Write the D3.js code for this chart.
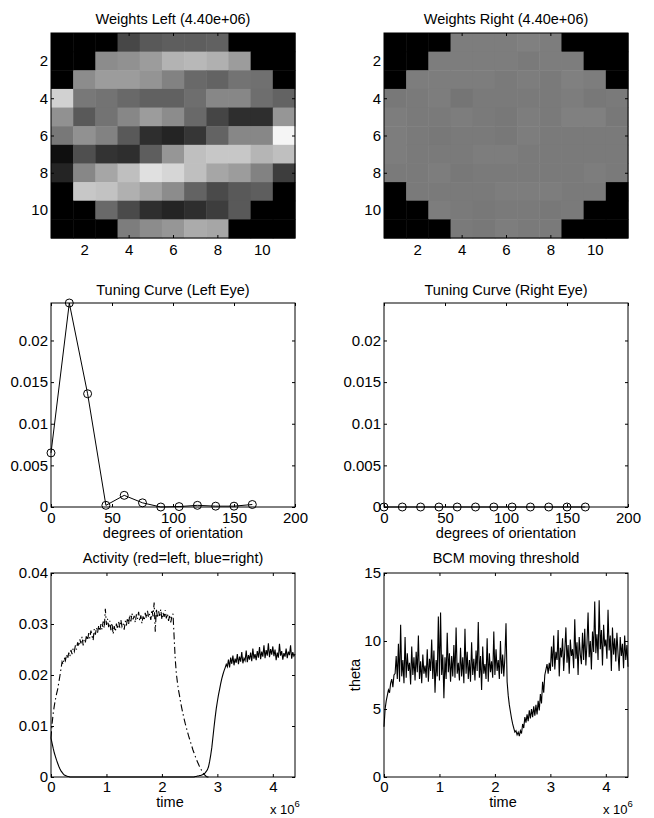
<!DOCTYPE html>
<html>
<head>
<meta charset="utf-8">
<script src="https://cdn.jsdelivr.net/npm/d3@7"></script>
<style>
  body { margin: 0; background: #fff; }
  svg text { font-family: "Liberation Sans", Arial, Helvetica, sans-serif; fill: #000; }
</style>
</head>
<body>
<svg id="fig" width="654" height="818"></svg>
<script>
// ── Data ──────────────────────────────────────────────
// receptive field weights, 11x11, shown as gray level (0 = black, 1 = white)
const weightsLeft = [
  [0,0,0,.28,.35,.37,.37,.38,0,0,0],
  [0,0,.55,.57,.61,.70,.72,.69,.61,0,0],
  [0,.55,.61,.61,.58,.51,.41,.39,.45,.44,0],
  [.82,.47,.45,.41,.38,.38,.43,.53,.53,.43,.39],
  [.57,.35,.45,.53,.61,.55,.41,.27,.18,.18,.59],
  [.47,.57,.51,.35,.18,.14,.21,.39,.53,.53,.96],
  [.06,.31,.20,.18,.37,.59,.75,.78,.78,.71,.75],
  [.14,.53,.65,.75,.88,.84,.75,.65,.61,.51,.24],
  [0,.78,.76,.69,.63,.55,.39,.29,.35,.37,0],
  [0,0,.41,.29,.18,.14,.18,.24,.35,0,0],
  [0,0,0,.49,.55,.59,.67,.65,0,0,0]
];
const weightsRight = [
  [0,0,0,.49,.49,.49,.50,.49,0,0,0],
  [0,0,.49,.49,.49,.49,.48,.49,.49,0,0],
  [0,.49,.49,.49,.49,.48,.49,.48,.50,.49,0],
  [.47,.48,.49,.46,.48,.48,.48,.48,.49,.47,.48],
  [.49,.48,.48,.49,.48,.47,.49,.48,.50,.50,.47],
  [.49,.48,.47,.48,.48,.47,.49,.48,.48,.48,.48],
  [.49,.48,.48,.48,.49,.49,.48,.48,.48,.48,.48],
  [.48,.48,.49,.47,.48,.48,.48,.48,.48,.49,.48],
  [0,.48,.48,.48,.48,.49,.49,.49,.48,.48,0],
  [0,0,.49,.48,.47,.48,.48,.47,.48,0,0],
  [0,0,0,.48,.47,.49,.48,.48,0,0,0]
];
const gridTicks = [2, 4, 6, 8, 10];

// tuning curves
const orientations = [0, 15, 30, 45, 60, 75, 90, 105, 120, 135, 150, 165];
const tuneLeft  = [0.0065, 0.0245, 0.0136, 0.0002, 0.0014, 0.0005, 0.0000, 0.00005, 0.0002, 0.0001, 0.0001, 0.0003];
const tuneRight = [0, 0, 0, 0, 0, 0, 0, 0, 0, 0, 0, 0];
const tuneXTicks = [0, 50, 100, 150, 200];
const tuneYTicks = [0, 0.005, 0.01, 0.015, 0.02];

// time series, sampled every 0.02 (x 10^6)
const tStep = 0.02;
const actLeft = [
  0.0076,0.0105,0.0125,0.0140,0.0152,0.0163,0.0172,0.0185,0.0198,0.0212,
  0.0226,0.0221,0.0234,
  0.0228,0.0240,0.0232,0.0244,0.0236,0.0249,0.0241,0.0252,0.0246,0.0258,
  0.0250,0.0264,0.0256,0.0270,0.0262,0.0275,0.0258,0.0270,0.0264,0.0278,
  0.0268,0.0282,0.0272,0.0287,0.0276,0.0268,0.0290,0.0279,0.0293,0.0283,
  0.0297,0.0286,0.0300,0.0289,0.0305,0.0292,0.0330,0.0298,0.0310,0.0294,
  0.0306,0.0288,0.0302,0.0280,0.0296,0.0285,0.0301,0.0290,0.0304,0.0293,
  0.0308,0.0295,0.0301,0.0289,0.0306,0.0297,0.0312,0.0300,0.0318,0.0305,
  0.0321,0.0309,0.0316,0.0303,0.0319,0.0310,0.0324,0.0306,0.0317,0.0301,
  0.0315,0.0307,0.0322,0.0311,0.0326,0.0313,0.0320,0.0308,0.0328,0.0315,
  0.0342,0.0285,0.0330,0.0312,0.0325,0.0316,0.0329,0.0309,0.0322,0.0314,
  0.0327,0.0311,0.0320,0.0306,0.0318,0.0303,0.0315,0.0320,
  0.0275,0.0232,0.0203,0.0185,0.0170,0.0158,0.0145,0.0134,0.0124,0.0114,
  0.0105,0.0097,0.0089,0.0081,0.0074,0.0067,0.0060,0.0053,0.0047,0.0041,
  0.0035,0.0030,0.0025,0.0020,0.0016,0.0012,0.0008,0.0005,0.0003,0.0001,
  0,0
];
const actRight = [
  0.0076,0.0066,0.0056,0.0047,0.0040,0.0033,0.0027,0.0021,0.0016,0.0012,
  0.0009,0.0006,0.0004,0.0003,0.0002,0.0001,0.0001,0,0,0,
  0,0,0,0,0,0,0,0,0,0, 0,0,0,0,0,0,0,0,0,0,
  0,0,0,0,0,0,0,0,0,0, 0,0,0,0,0,0,0,0,0,0,
  0,0,0,0,0,0,0,0,0,0, 0,0,0,0,0,0,0,0,0,0,
  0,0,0,0,0,0,0,0,0,0, 0,0,0,0,0,0,0,0,0,0,
  0,0,0,0,0,0,0,0,0,0, 0,0,0,0,0,0,0,0,0,0,
  0,0,0,0,0,0,0,0,0,0,
  0.0001,0.0001,0.0002,0.0002,0.0003,0.0003,0.0004,0.0005,0.0006,0.0008,
  0.0011,0.0014,0.0020,0.0030,0.0043,0.0058,0.0078,0.0098,0.0117,0.0134,
  0.0148,0.0161,0.0172,0.0183,0.0193,0.0201,0.0208,0.0214,0.0221,0.0216,
  0.0230,0.0215,0.0234,0.0222,0.0238,0.0219,0.0232,0.0224,0.0241,0.0221,
  0.0236,0.0226,0.0245,0.0223,0.0233,0.0228,0.0248,0.0225,0.0239,0.0230,
  0.0244,0.0227,0.0252,0.0232,0.0241,0.0229,0.0247,0.0234,0.0255,0.0231,
  0.0246,0.0236,0.0258,0.0233,0.0249,0.0238,0.0262,0.0235,0.0251,0.0240,
  0.0256,0.0237,0.0250,0.0229,0.0244,0.0234,0.0261,0.0238,0.0247,0.0230,
  0.0243,0.0236,0.0252,0.0233,0.0246,0.0239,0.0258,0.0232,0.0245,0.0237,0.0241
];
const theta = [
  3.7,5.0,5.6,6.0,6.4,6.2,6.9,7.2,6.6,7.5,
  7.6,8.9,7.2,9.8,7.0,11.2,7.4,8.6,6.9,10.3,
  7.3,9.1,7.8,8.4,6.8,9.6,7.5,8.8,7.1,9.2,
  7.7,10.4,7.2,8.5,6.9,9.0,7.6,8.2,7.3,9.4,
  7.0,8.7,7.8,10.1,7.2,9.3,6.2,8.6,7.4,11.8,
  7.1,12.1,7.5,9.0,5.8,8.8,7.2,10.6,7.7,9.1,
  7.0,8.9,7.4,9.7,7.3,11.0,7.6,8.4,7.1,9.5,
  7.4,8.8,6.9,10.9,7.6,9.2,7.2,8.6,7.0,9.9,
  7.5,8.7,7.1,9.3,7.8,11.4,7.3,8.9,6.4,9.6,
  7.6,8.3,7.2,10.2,7.0,9.1,7.7,8.5,7.3,10.7,
  7.5,9.4,7.8,8.6,7.2,10.0,7.6,9.0,7.4,8.8,
  11.3,7.0,6.0,5.3,4.8,4.3,3.9,3.6,3.3,3.4,
  3.1,3.3,3.0,3.4,3.2,3.9,3.6,4.4,4.0,4.6,
  4.1,4.9,4.3,5.0,4.4,5.2,4.5,5.3,4.6,5.6,
  4.9,6.1,5.4,7.0,6.2,7.5,7.9,8.3,7.6,8.4,
  7.8,9.6,8.1,10.4,7.9,9.2,8.6,10.8,7.4,9.5,
  8.8,10.2,7.8,9.3,11.0,8.4,9.7,7.6,10.1,8.9,
  9.4,8.0,11.6,8.7,9.9,7.5,10.3,9.0,8.3,10.6,
  8.6,10.9,8.2,9.8,12.1,8.8,10.0,7.9,10.7,9.2,
  12.9,9.1,10.5,8.6,13.0,9.4,10.8,8.2,11.2,9.6,
  10.1,8.7,12.3,9.3,10.4,7.8,11.0,9.0,10.2,8.5,
  10.6,9.1,7.8,10.3,8.9,9.8,8.0,10.4,8.6,9.7,8.1
];
const timeTicks = [0, 1, 2, 3, 4];
const actYTicks = [0, 0.01, 0.02, 0.03, 0.04];
const thetaYTicks = [0, 5, 10, 15];

// ── Layout ────────────────────────────────────────────
const colX = [[51, 295], [384, 628]];
const rowY = [[33, 238], [303, 507], [573, 777]];
const TICK = 3;

const svg = d3.select("#fig");
const gray = d3.scaleLinear().domain([0, 1]).range(["#000", "#fff"]);
const fmt = d3.format("~g");

// draws box, inward ticks on all four sides, labels bottom/left
function frame(x, y, xt, yt, xOff) {
  const [x0, x1] = x.range();
  const [y1, y0] = y.range().slice().sort((a, b) => b - a);
  const g = svg.append("g");

  const bottom = g.append("g").attr("transform", `translate(0,${y1})`)
    .call(d3.axisBottom(x).tickValues(xt).tickSize(-TICK).tickSizeOuter(0).tickFormat(fmt));
  bottom.selectAll("text").attr("y", xOff).attr("dy", "0.35em");
  g.append("g").attr("transform", `translate(0,${y0})`)
    .call(d3.axisTop(x).tickValues(xt).tickSize(-TICK).tickSizeOuter(0).tickFormat(""));
  const left = g.append("g").attr("transform", `translate(${x0},0)`)
    .call(d3.axisLeft(y).tickValues(yt).tickSize(-TICK).tickSizeOuter(0).tickFormat(fmt));
  left.selectAll("text").attr("x", -3);
  g.append("g").attr("transform", `translate(${x1},0)`)
    .call(d3.axisRight(y).tickValues(yt).tickSize(-TICK).tickSizeOuter(0).tickFormat(""));

  g.selectAll(".domain").remove();
  g.selectAll(".tick line").attr("stroke", "#000");
  g.selectAll(".tick text").attr("font-size", 15).attr("font-family", null);

  g.append("rect")
    .attr("x", x0).attr("y", y0)
    .attr("width", x1 - x0).attr("height", y1 - y0)
    .attr("fill", "none").attr("stroke", "#000").attr("stroke-width", 1);
}

function title(text, xr, yBase) {
  svg.append("text")
    .attr("x", (xr[0] + xr[1]) / 2).attr("y", yBase)
    .attr("text-anchor", "middle").attr("font-size", 14.5)
    .text(text);
}

// ── Weights (image panels) ────────────────────────────
function drawWeights(data, col, label) {
  const x = d3.scaleLinear().domain([0.5, 11.5]).range(colX[col]);
  const y = d3.scaleLinear().domain([0.5, 11.5]).range(rowY[0]);
  const cells = [];
  data.forEach((row, r) => row.forEach((v, c) => cells.push({ r: r + 1, c: c + 1, v })));
  svg.append("g").selectAll("rect").data(cells).enter().append("rect")
    .attr("x", d => x(d.c - 0.5))
    .attr("y", d => y(d.r - 0.5))
    .attr("width", d => x(d.c + 0.5) - x(d.c - 0.5) + 0.5)
    .attr("height", d => y(d.r + 0.5) - y(d.r - 0.5) + 0.5)
    .attr("fill", d => gray(d.v));
  // y axis of an image runs top-down, so pass a flipped copy for the frame helper
  frame(x, y.copy().range([rowY[0][1], rowY[0][0]]).domain([11.5, 0.5]), gridTicks, gridTicks, 12);
  title(label, colX[col], 24);
}

drawWeights(weightsLeft, 0, "Weights Left (4.40e+06)");
drawWeights(weightsRight, 1, "Weights Right (4.40e+06)");

// ── Tuning curves ─────────────────────────────────────
function drawTuning(vals, col, label) {
  const x = d3.scaleLinear().domain([0, 200]).range(colX[col]);
  const y = d3.scaleLinear().domain([0, 0.0245]).range([rowY[1][1], rowY[1][0]]);
  const pts = orientations.map((o, i) => ({ o, v: vals[i] }));
  svg.append("path").datum(pts)
    .attr("fill", "none").attr("stroke", "#000").attr("stroke-width", 1)
    .attr("d", d3.line().x(d => x(d.o)).y(d => y(d.v)));
  svg.append("g").selectAll("circle").data(pts).enter().append("circle")
    .attr("cx", d => x(d.o)).attr("cy", d => y(d.v)).attr("r", 4)
    .attr("fill", "none").attr("stroke", "#000").attr("stroke-width", 1);
  frame(x, y, tuneXTicks, tuneYTicks, 11);
  title(label, colX[col], 295);
  svg.append("text")
    .attr("x", (colX[col][0] + colX[col][1]) / 2).attr("y", 538)
    .attr("text-anchor", "middle").attr("font-size", 14.5)
    .text("degrees of orientation");
}

drawTuning(tuneLeft, 0, "Tuning Curve (Left Eye)");
drawTuning(tuneRight, 1, "Tuning Curve (Right Eye)");

// ── Time series ───────────────────────────────────────
function timeAxisExtras(col) {
  const cx = (colX[col][0] + colX[col][1]) / 2;
  svg.append("text").attr("x", cx - 3).attr("y", 807)
    .attr("text-anchor", "middle").attr("font-size", 14.5).text("time");
  const t = svg.append("text").attr("x", colX[col][1] - 25).attr("y", 814).attr("font-size", 13);
  t.append("tspan").text("x 10");
  t.append("tspan").attr("font-size", 9.5).attr("dy", -7).text("6");
}

// activity panel
{
  const x = d3.scaleLinear().domain([0, 4.4]).range(colX[0]);
  const y = d3.scaleLinear().domain([0, 0.04]).range([rowY[2][1], rowY[2][0]]);
  const line = d3.line().x((d, i) => x(i * tStep)).y(d => y(d));
  svg.append("path").datum(actRight)
    .attr("fill", "none").attr("stroke", "#000").attr("stroke-width", 1.1)
    .attr("d", line);
  svg.append("path").datum(actLeft)
    .attr("fill", "none").attr("stroke", "#000").attr("stroke-width", 1.1)
    .attr("stroke-dasharray", "7,3,1.5,3")
    .attr("d", line);
  frame(x, y, timeTicks, actYTicks, 10);
  title("Activity (red=left, blue=right)", colX[0], 563);
  timeAxisExtras(0);
}

// BCM threshold panel
{
  const x = d3.scaleLinear().domain([0, 4.4]).range(colX[1]);
  const y = d3.scaleLinear().domain([0, 15]).range([rowY[2][1], rowY[2][0]]);
  svg.append("path").datum(theta)
    .attr("fill", "none").attr("stroke", "#000").attr("stroke-width", 1.1)
    .attr("d", d3.line().x((d, i) => x(i * tStep)).y(d => y(d)));
  frame(x, y, timeTicks, thetaYTicks, 10);
  title("BCM moving threshold", colX[1], 563);
  timeAxisExtras(1);
  svg.append("text")
    .attr("transform", `translate(360,${(rowY[2][0] + rowY[2][1]) / 2}) rotate(-90)`)
    .attr("text-anchor", "middle").attr("font-size", 14.5).text("theta");
}
</script>
</body>
</html>
